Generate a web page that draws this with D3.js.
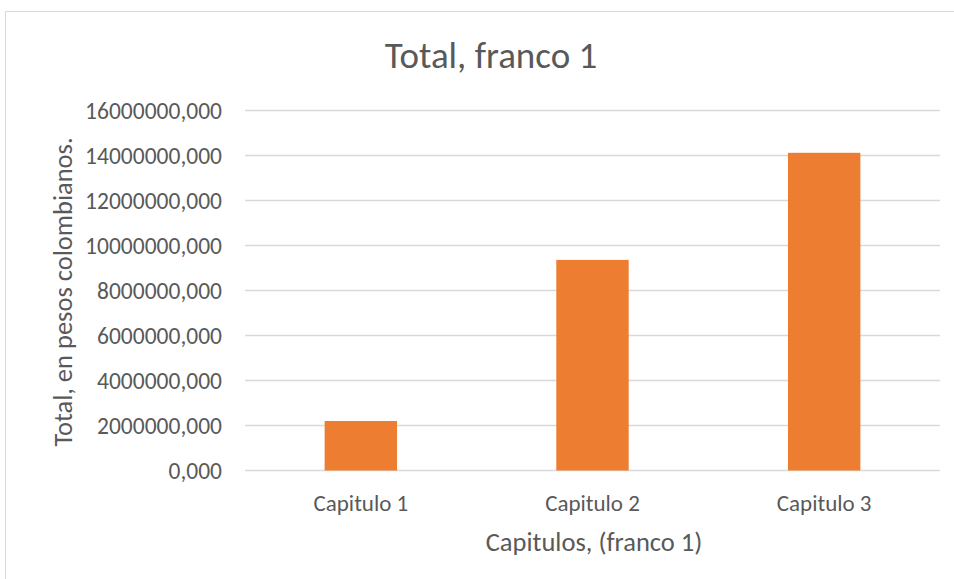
<!DOCTYPE html>
<html>
<head>
<meta charset="utf-8">
<script src="https://cdn.jsdelivr.net/npm/d3@7"></script>
<style>
  body { margin: 0; background: #fff; }
  text { font-family: Carlito, "Open Sans", sans-serif; fill: #595959; }
</style>
</head>
<body>
<svg id="chart" width="954" height="579"></svg>
<script>
const categories = ["Capitulo 1", "Capitulo 2", "Capitulo 3"];
const totals = [2200000, 9360000, 14120000];
const yTicks = [0, 2000000, 4000000, 6000000, 8000000, 10000000, 12000000, 14000000, 16000000];

const width = 954, height = 579;
const plot = { left: 245, right: 940, top: 110.5, bottom: 470.5 };

const svg = d3.select("#chart");

// outer chart frame
svg.append("rect")
  .attr("x", 5.5).attr("y", 11.5)
  .attr("width", 1000).attr("height", 700)
  .attr("fill", "#fff")
  .attr("stroke", "#d9d9d9");

const x = d3.scaleBand()
  .domain(categories)
  .range([plot.left, plot.right])
  .paddingInner(0.6875)
  .paddingOuter(0.34375);

const y = d3.scaleLinear()
  .domain([0, 16000000])
  .range([plot.bottom, plot.top]);

// gridlines
svg.append("g")
  .selectAll("line")
  .data(yTicks)
  .enter()
  .append("line")
  .attr("x1", plot.left).attr("x2", plot.right)
  .attr("y1", d => y(d)).attr("y2", d => y(d))
  .attr("stroke", "#d9d9d9")
  .attr("stroke-width", 1.3);

// y axis labels
const yAxis = svg.append("g")
  .attr("transform", "translate(" + plot.left + ",0)")
  .call(d3.axisLeft(y).tickValues(yTicks).tickSize(0).tickPadding(23)
    .tickFormat(d => d + ",000"));
yAxis.select(".domain").remove();
yAxis.selectAll("text").style("font-size", "23.5px").attr("fill", "#595959");

// x axis labels
const xAxis = svg.append("g")
  .attr("transform", "translate(0," + plot.bottom + ")")
  .call(d3.axisBottom(x).tickSize(0).tickPadding(24));
xAxis.select(".domain").remove();
xAxis.selectAll("text").style("font-size", "23px").attr("fill", "#595959");

// bars
svg.selectAll("bars")
  .data(totals)
  .enter()
  .append("rect")
  .attr("x", (d, i) => x(categories[i]))
  .attr("y", d => y(d))
  .attr("width", x.bandwidth())
  .attr("height", d => plot.bottom - y(d))
  .attr("fill", "#ed7d31");

// title
svg.append("text")
  .attr("x", 491).attr("y", 68)
  .attr("text-anchor", "middle")
  .style("font-size", "37px")
  .text("Total, franco 1");

// axis titles
svg.append("text")
  .attr("x", 594).attr("y", 551)
  .attr("text-anchor", "middle")
  .style("font-size", "26.5px")
  .text("Capitulos, (franco 1)");

svg.append("text")
  .attr("transform", "translate(72,292) rotate(-90)")
  .attr("text-anchor", "middle")
  .style("font-size", "26.5px")
  .text("Total, en pesos colombianos.");
</script>
</body>
</html>
